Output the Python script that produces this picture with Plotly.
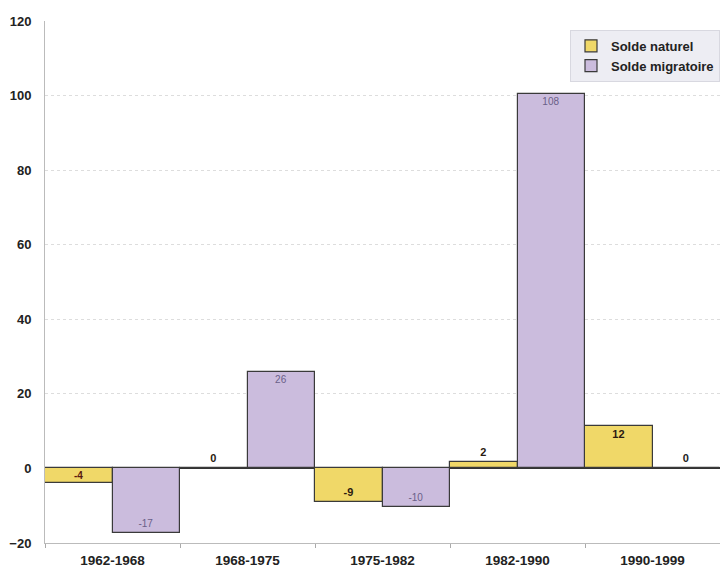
import plotly.graph_objects as go

periods = ["1962-1968", "1968-1975", "1975-1982", "1982-1990", "1990-1999"]
solde_naturel = [-4, 0, -9, 1.6, 11.5]
solde_migratoire = [-17.2, 25.8, -10.4, 100.3, 0]
labels_naturel = ["-4", "0", "-9", "2", "12"]
labels_migratoire = ["-17", "26", "-10", "108", "0"]
y_ticks = [-20, 0, 20, 40, 60, 80, 100, 120]

FONT = "Arial, Liberation Sans, sans-serif"
YELLOW = "#F0D868"
PURPLE = "#CBBCDD"
EDGE = "#3a3a3a"

# first yellow bar is too thin for Plotly's inside text: label it separately
naturel_pos = ["none", "outside", "inside", "outside", "inside"]

fig = go.Figure()
fig.add_trace(go.Bar(
    x=periods, y=solde_naturel, name="Solde naturel",
    marker=dict(color=YELLOW, line=dict(color=EDGE, width=1.2)),
    text=labels_naturel,
    textposition=naturel_pos,
    insidetextanchor="end",
    constraintext="none",
    cliponaxis=False,
    textfont=dict(family=FONT, size=11, color="#2a1a10", weight="bold"),
))
fig.add_trace(go.Bar(
    x=periods, y=solde_migratoire, name="Solde migratoire",
    marker=dict(color=PURPLE, line=dict(color=EDGE, width=1.2)),
    text=labels_migratoire,
    textposition=["inside", "inside", "inside", "inside", "outside"],
    insidetextanchor="end",
    constraintext="none",
    cliponaxis=False,
    textfont=dict(family=FONT,
                  size=[10, 10, 10, 10, 11],
                  color=["#6a5f88", "#6a5f88", "#6a5f88", "#6a5f88", "#222222"],
                  weight=["normal", "normal", "normal", "normal", "bold"]),
))
# -4 label centred inside the thin bar (left half of the group)
fig.add_annotation(
    x=periods[0], y=solde_naturel[0] / 2, xshift=-33.75,
    text=labels_naturel[0], showarrow=False,
    font=dict(family=FONT, size=10, color="#5a1a10", weight="bold"),
)

fig.update_layout(
    width=720, height=569,
    margin=dict(l=45, r=0, t=21, b=26),
    paper_bgcolor="white", plot_bgcolor="white",
    barmode="group", bargap=0, bargroupgap=0,
    font=dict(family=FONT, size=13, color="#222"),
    showlegend=True,
    legend=dict(
        x=1, xanchor="right", y=0.983, yanchor="top",
        bgcolor="#EDEDF3", bordercolor="#D8D8E0", borderwidth=1,
        font=dict(family=FONT, size=13, color="#222", weight="bold"),
        itemwidth=30, tracegroupgap=0,
    ),
)
fig.update_xaxes(
    type="category", range=[-0.5, 4.5],
    showgrid=False, showline=True, linecolor="#BBBBBB", linewidth=1,
    ticks="outside", tickson="boundaries", ticklen=4, tickcolor="#AAAAAA",
    tickfont=dict(family=FONT, size=13.5, color="#222", weight="bold"),
    ticklabelstandoff=5,
)
fig.update_yaxes(
    range=[-20, 120], tickvals=y_ticks,
    showgrid=True, gridcolor="#DDDDDD", griddash="dot", gridwidth=1,
    showline=True, linecolor="#BBBBBB", linewidth=1,
    zeroline=True, zerolinecolor="#333333", zerolinewidth=1.5,
    ticks="", ticklabelstandoff=10,
    tickfont=dict(family=FONT, size=13, color="#222", weight="bold"),
)

fig.write_html("out.html")
